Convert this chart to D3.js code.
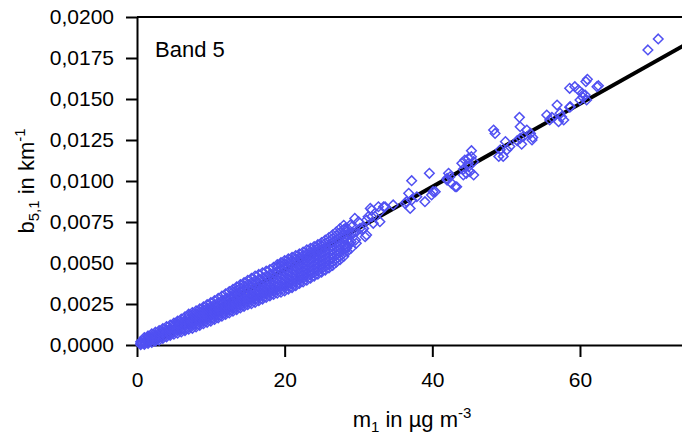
<!DOCTYPE html>
<html><head><meta charset="utf-8">
<script src="https://cdn.jsdelivr.net/npm/d3@7"></script>
<style>
body{margin:0;background:#fff}
svg{display:block}
text{font-family:Arial,"Liberation Sans",sans-serif;fill:#000}
</style></head>
<body><svg id="chart" width="682" height="439"></svg>
<script>
// ---------- data ----------
const xTicks = [0, 20, 40, 60];
const yTicks = [0, 0.0025, 0.005, 0.0075, 0.01, 0.0125, 0.015, 0.0175, 0.02];
const panelLabel = "Band 5";

// dense band of measurements, read column by column (x, list of y)
const denseColumns = [
  [0.5, [.00002, .0001, .0002]],
  [1.0, [.00003, .00012, .00022, .00035, .00045]],
  [1.5, [.0001, .0002, .00033, .00045, .00055]],
  [2.0, [.00016, .0003, .00042, .00055, .00068]],
  [2.5, [.00024, .00036, .0005, .00062, .00078]],
  [3.0, [.0003, .00045, .00058, .00072, .00088]],
  [3.5, [.0004, .00053, .00068, .00083, .001]],
  [4.0, [.0005, .00063, .00078, .00093, .00112]],
  [4.5, [.00058, .0007, .00086, .001, .00122]],
  [5.0, [.00066, .0008, .00095, .0011, .00122, .00134]],
  [5.5, [.00072, .00088, .00102, .00118, .00132, .00146]],
  [6.0, [.0008, .00095, .0011, .00126, .00142, .00158]],
  [6.5, [.00088, .00102, .00118, .00134, .0015, .00172]],
  [7.0, [.00096, .0011, .00126, .00144, .0016, .00176, .00188]],
  [7.5, [.00102, .00118, .00134, .0015, .00168, .00184, .00198]],
  [8.0, [.0011, .00126, .00142, .0016, .00176, .00192, .00208]],
  [8.5, [.0012, .00136, .00152, .00168, .00186, .00202, .0022]],
  [9.0, [.0013, .00146, .00162, .00178, .00196, .00214, .00232]],
  [9.5, [.00138, .00154, .0017, .00188, .00206, .00224, .00246]],
  [10.0, [.00146, .00162, .0018, .00198, .00216, .00234, .00258]],
  [10.5, [.00156, .00172, .0019, .00208, .00226, .00246, .0027]],
  [11.0, [.00166, .00182, .002, .00218, .00238, .00258, .00284]],
  [11.5, [.00176, .00192, .0021, .0023, .0025, .0027, .00298]],
  [12.0, [.00186, .00202, .0022, .0024, .0026, .00282, .00312]],
  [12.5, [.00196, .00212, .0023, .0025, .00272, .00294, .00326]],
  [13.0, [.00206, .00222, .0024, .0026, .00282, .00304, .00324, .0034]],
  [13.5, [.00216, .00232, .0025, .0027, .00292, .00314, .00334, .00354]],
  [14.0, [.00226, .00242, .0026, .0028, .00302, .00326, .00348, .00368]],
  [14.5, [.00236, .00252, .0027, .0029, .00312, .00336, .0036, .0038]],
  [15.0, [.00246, .00262, .0028, .003, .00322, .00346, .0037, .00394]],
  [15.5, [.00252, .0027, .00288, .00308, .0033, .00354, .0038, .00406]],
  [16.0, [.0026, .00278, .00296, .00318, .0034, .00364, .0039, .0042]],
  [16.5, [.0027, .00288, .00306, .00328, .0035, .00374, .004, .0043]],
  [17.0, [.0028, .00298, .00316, .00338, .0036, .00384, .0041, .0044]],
  [17.5, [.0029, .00308, .00326, .00348, .0037, .00394, .0042, .0045]],
  [18.0, [.003, .00318, .00336, .00358, .0038, .00404, .0043, .0046]],
  [18.5, [.00308, .00326, .00344, .00366, .0039, .00414, .0044, .00474]],
  [19.0, [.00316, .00334, .00354, .00376, .004, .00424, .0045, .00476, .0049]],
  [19.5, [.00322, .0034, .0036, .00384, .00408, .00432, .0046, .00486, .00502]],
  [20.0, [.0033, .0035, .0037, .00394, .00418, .00442, .0047, .00496, .00515]],
  [20.5, [.0034, .0036, .0038, .00404, .00428, .00452, .0048, .00506, .00525]],
  [21.0, [.0035, .0037, .0039, .00414, .00438, .00462, .0049, .00516, .00535]],
  [21.5, [.00362, .00382, .00402, .00426, .0045, .00474, .005, .00526, .00545]],
  [22.0, [.00375, .00395, .00415, .00438, .00462, .00486, .0051, .00534, .00555]],
  [22.5, [.00385, .00405, .00426, .0045, .00474, .00498, .00522, .00546, .00567]],
  [23.0, [.00395, .00415, .00436, .0046, .00484, .00508, .00532, .00558, .0058]],
  [23.5, [.00407, .00428, .0045, .00474, .00498, .00522, .00546, .0057, .0059]],
  [24.0, [.0042, .0044, .00462, .00486, .0051, .00534, .00558, .0058, .006]],
  [24.5, [.00432, .00452, .00474, .00498, .00522, .00546, .0057, .00592, .00612]],
  [25.0, [.00445, .00465, .00488, .00512, .00536, .0056, .00584, .00606, .00625]],
  [25.5, [.00457, .00478, .005, .00524, .00548, .00572, .00596, .0062, .0064]],
  [26.0, [.0047, .0049, .00514, .00538, .00562, .00586, .0061, .00634, .00655]],
  [26.5, [.00485, .00506, .0053, .00554, .00578, .00602, .00626, .0065, .00672]],
  [27.0, [.00505, .00525, .00548, .00572, .00596, .0062, .00644, .00668, .0069]],
  [27.5, [.0052, .0054, .00564, .00588, .00612, .00636, .0066, .00686, .0071]],
  [28.0, [.0054, .0056, .00582, .00606, .0063, .00654, .00678, .00704, .0073]],
  [28.5, [.0057, .006, .0064, .0067, .0071]],
  [29.0, [.0059, .0063, .0068]],
  [29.7, [.0062, .0069]]
];

// individually readable measurements
const sparsePoints = [
  [70.6, .01866], [69.2, .01799], [62.5, .01581], [62.3, .01575], [60.8, .01606], [61.0, .0162],
  [58.6, .01565], [59.3, .01575], [59.8, .01555], [60.3, .01535], [60.7, .01524], [60.9, .01494],
  [60.0, .01494], [60.4, .0151], [58.6, .0145], [56.9, .01463], [58.7, .01453], [57.3, .01413],
  [57.8, .01372], [57.5, .01392], [55.5, .01402], [55.9, .01372], [56.2, .01388], [57.1, .01362],
  [51.8, .01388], [51.9, .01331], [52.8, .01311], [53.3, .0129], [53.6, .01266], [52.3, .0127],
  [52.1, .01224], [51.5, .01246], [53.5, .0125], [51.9, .0126], [50.5, .0121], [50.1, .0119],
  [49.2, .0119], [49.0, .0115], [49.6, .0115], [49.9, .0124], [48.3, .01311], [48.5, .0129],
  [45.3, .01185], [44.9, .01138], [45.6, .01037], [44.0, .01108], [44.2, .01071], [44.6, .01047],
  [45.6, .01118], [44.4, .01128], [44.9, .01087], [45.3, .01148], [44.9, .01108], [45.1, .01057],
  [44.2, .01037], [39.6, .01047], [42.2, .01047], [42.4, .01026], [42.6, .00986], [43.1, .00965],
  [42.0, .01006], [43.3, .00965], [42.0, .01016], [37.2, .01002], [36.8, .00925], [36.5, .00874],
  [37.9, .00904], [39.0, .00874], [37.0, .00833], [36.3, .00864], [37.2, .00884], [40.4, .00935],
  [39.9, .00915], [40.1, .00935], [34.7, .00854], [33.6, .00843], [32.7, .00843], [31.6, .00833],
  [31.8, .00782], [32.9, .00752], [31.1, .00762], [30.9, .0066], [29.5, .00772], [29.1, .00721],
  [30.2, .00711], [29.3, .00681], [33.4, .00843], [32.9, .00813], [31.8, .00823], [31.3, .00782],
  [30.0, .00752], [28.9, .00732], [28.2, .00711], [30.7, .00711], [28.6, .00681], [31.1, .00671],
  [32.0, .00742], [30.5, .00701], [28.8, .0062], [29.6, .0064], [28.4, .0059]
];

// linear fit drawn through the data
const fitSlope = 0.000253;
const fitIntercept = -0.00047;
const fitRange = [1.9, 80];

// ---------- drawing ----------
const svg = d3.select("#chart");
const x = d3.scaleLinear().domain([0, 80]).range([137, 137 + 80 * 7.383]);
const y = d3.scaleLinear().domain([0, 0.02]).range([345, 17]);
const FONT = "Arial, 'Liberation Sans', sans-serif";

const points = [];
denseColumns.forEach(([xv, ys]) => ys.forEach(yv => points.push([xv, yv])));
sparsePoints.forEach(p => points.push(p));

// top frame line
svg.append("line").attr("x1", x(0)).attr("x2", 682).attr("y1", y(0.02)).attr("y2", y(0.02))
  .attr("stroke", "#000").attr("stroke-width", 2);

const yAxis = svg.append("g").attr("transform", `translate(${x(0)},0)`)
  .call(d3.axisLeft(y).tickValues(yTicks).tickSize(11).tickSizeOuter(0).tickPadding(12)
    .tickFormat(d => d.toFixed(4).replace(".", ",")));
const xAxis = svg.append("g").attr("transform", `translate(0,${y(0)})`)
  .call(d3.axisBottom(x).tickValues(xTicks).tickSize(12).tickSizeOuter(0).tickPadding(15)
    .tickFormat(d => String(d)));
[yAxis, xAxis].forEach(g => {
  g.selectAll("path,line").attr("stroke", "#000").attr("stroke-width", 2);
  g.selectAll("text").attr("font-size", 21).attr("font-family", FONT).attr("fill", "#000");
});

// fit line
svg.append("line")
  .attr("x1", x(fitRange[0])).attr("y1", y(fitSlope * fitRange[0] + fitIntercept))
  .attr("x2", x(fitRange[1])).attr("y2", y(fitSlope * fitRange[1] + fitIntercept))
  .attr("stroke", "#000").attr("stroke-width", 4);

// points (hollow diamonds)
const r = 4.8;
svg.append("g").selectAll("path").data(points).join("path")
  .attr("transform", d => `translate(${x(d[0])},${y(d[1])})`)
  .attr("d", `M0,${-r}L${r},0L0,${r}L${-r},0Z`)
  .attr("fill", "none").attr("stroke", "#5050f2").attr("stroke-width", 1.5);

// panel label
svg.append("text").attr("x", 155).attr("y", 57).attr("font-size", 22).text(panelLabel);

// axis titles
const xt = svg.append("text").attr("x", 412).attr("y", 427).attr("text-anchor", "middle").attr("font-size", 22);
xt.append("tspan").text("m");
xt.append("tspan").attr("font-size", 15).attr("dy", 5).text("1");
xt.append("tspan").attr("dy", -5).text(" in µg m");
xt.append("tspan").attr("font-size", 15).attr("dy", -9).text("-3");

const yt = svg.append("text").attr("transform", "translate(34,181) rotate(-90)").attr("text-anchor", "middle").attr("font-size", 22);
yt.append("tspan").text("b");
yt.append("tspan").attr("font-size", 15).attr("dy", 5).text("5,1");
yt.append("tspan").attr("dy", -5).text(" in km");
yt.append("tspan").attr("font-size", 15).attr("dy", -9).text("-1");
</script></body></html>
